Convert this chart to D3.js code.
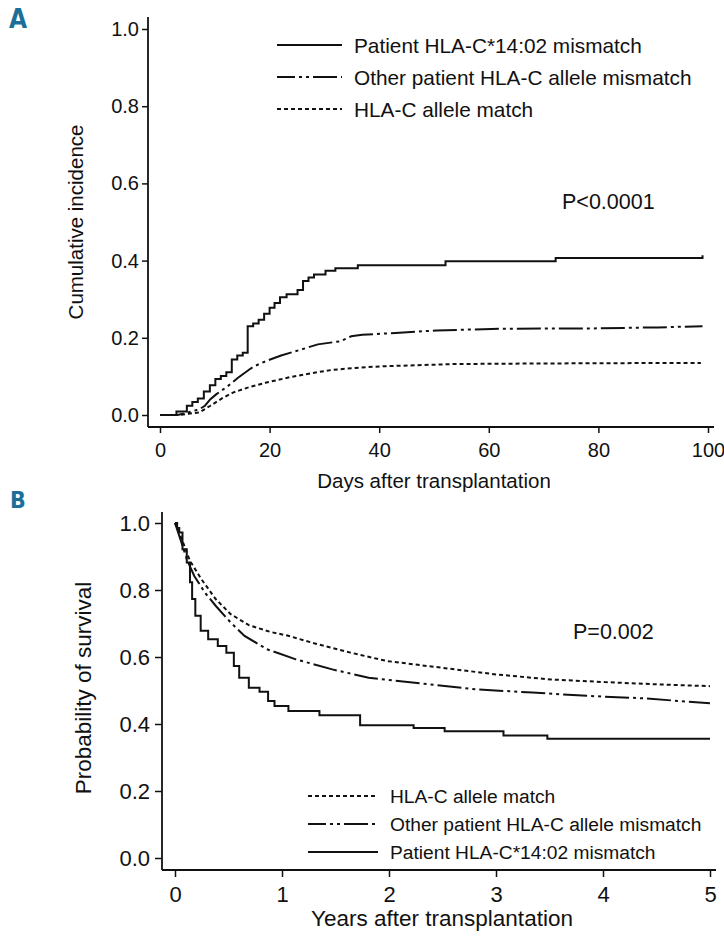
<!DOCTYPE html>
<html>
<head>
<meta charset="utf-8">
<script src="https://cdn.jsdelivr.net/npm/d3@7"></script>
<style>
  body { margin: 0; background: #fff; }
  svg { display: block; font-family: "Liberation Sans", Arial, sans-serif; }
</style>
</head>
<body>
<div id="chart"></div>
<script>
'use strict'

// panel A : cumulative incidence, days after transplantation
var aTicksX = [0, 20, 40, 60, 80, 100]
var aTicksY = [0, 0.2, 0.4, 0.6, 0.8, 1.0]
var aDays1402 = [0, 3, 4.9, 5.9, 6.9, 8, 9.1, 10.1, 11.1, 12.1, 13.1, 14.1, 15.1, 16, 17, 18, 19, 20, 20.9, 21.9, 23.1, 25.1, 26.1, 27.1, 28.1, 30.2, 32, 36.1, 52.1, 72.2, 99]
var aInc1402 = [0, 0.009, 0.024, 0.034, 0.043, 0.061, 0.077, 0.093, 0.101, 0.111, 0.144, 0.154, 0.161, 0.230, 0.237, 0.247, 0.262, 0.278, 0.290, 0.305, 0.313, 0.324, 0.347, 0.356, 0.364, 0.374, 0.380, 0.388, 0.398, 0.407, 0.414]
var aDaysOther = [0, 3.2, 5.2, 7.2, 8.2, 9.2, 10.3, 12.3, 14.3, 16.3, 17.3, 19.4, 22.1, 25.4, 28.8, 32.9, 34.9, 36.9, 43.7, 50.4, 60.5, 70.6, 77.4, 90.9, 99]
var aIncOther = [0, 0, 0.007, 0.015, 0.024, 0.041, 0.054, 0.074, 0.097, 0.118, 0.127, 0.14, 0.154, 0.168, 0.183, 0.191, 0.204, 0.208, 0.213, 0.219, 0.223, 0.224, 0.224, 0.227, 0.23]
var aDaysMatch = [0, 3.2, 5.2, 7.2, 9.2, 11.3, 13.3, 16, 19.4, 23.4, 27.5, 31.5, 35.6, 40.3, 47, 53.8, 63.9, 77.4, 98.7]
var aIncMatch = [0, 0, 0.003, 0.007, 0.024, 0.043, 0.058, 0.071, 0.084, 0.097, 0.108, 0.117, 0.122, 0.126, 0.129, 0.132, 0.133, 0.134, 0.135]

// panel B : survival, years after transplantation
var bTicksX = [0, 1, 2, 3, 4, 5]
var bTicksY = [0, 0.2, 0.4, 0.6, 0.8, 1.0]
var bYrs1402 = [0, 0.02, 0.04, 0.07, 0.11, 0.14, 0.16, 0.19, 0.24, 0.31, 0.4, 0.48, 0.55, 0.6, 0.69, 0.79, 0.87, 0.93, 1.06, 1.35, 1.73, 2.23, 2.52, 3.07, 3.48, 5.0]
var bSurv1402 = [1, 0.985, 0.972, 0.922, 0.882, 0.823, 0.773, 0.723, 0.678, 0.653, 0.633, 0.613, 0.573, 0.538, 0.508, 0.496, 0.469, 0.454, 0.439, 0.426, 0.396, 0.388, 0.378, 0.366, 0.356, 0.356]
var bYrsOther = [0, 0.06, 0.11, 0.18, 0.28, 0.38, 0.52, 0.65, 0.86, 1.13, 1.47, 1.81, 2.39, 2.83, 3.34, 3.85, 4.36, 4.7, 5.0]
var bSurvOther = [1, 0.942, 0.892, 0.842, 0.792, 0.753, 0.703, 0.663, 0.623, 0.593, 0.563, 0.538, 0.518, 0.503, 0.494, 0.484, 0.477, 0.469, 0.462]
var bYrsMatch = [0, 0.075, 0.14, 0.245, 0.38, 0.52, 0.69, 0.89, 1.05, 1.3, 1.64, 1.98, 2.49, 3.0, 3.51, 4.02, 4.53, 5.0]
var bSurvMatch = [1, 0.942, 0.887, 0.833, 0.773, 0.728, 0.695, 0.675, 0.664, 0.641, 0.613, 0.588, 0.568, 0.548, 0.533, 0.525, 0.518, 0.513]

var labels = {
    c1402: "Patient HLA-C*14:02 mismatch",
    other: "Other patient HLA-C allele mismatch",
    match: "HLA-C allele match"
}
var dashes = {
    c1402: null,
    other: "24,4,3,4,3,4",
    match: "4,3"
}

var zip = (xs, ys) => xs.map((x, i) => [x, ys[i]])

var svg = d3.select("#chart").append("svg")
    .attr("width", 724)
    .attr("height", 939)
svg.append("rect").attr("width", 724).attr("height", 939).attr("fill", "#fff")

function panel(o) {
    var x = d3.scaleLinear().domain(o.xDomain).range(o.xRange)
    var y = d3.scaleLinear().domain([0, 1]).range(o.yRange)
    var g = svg.append("g")

    // panel letter
    g.append("text")
        .attr("x", o.letterPos[0]).attr("y", o.letterPos[1])
        .attr("fill", "#1b6f99")
        .style("font-family", "'Liberation Sans Narrow', 'DejaVu Sans Condensed', sans-serif")
        .style("font-weight", "bold")
        .style("font-size", o.letterSize + "px")
        .text(o.letter)

    // y axis
    var ya = g.append("g")
        .attr("transform", "translate(" + o.spineX + ",0)")
        .call(d3.axisLeft(y).tickValues(o.yTicks).tickFormat(d3.format(".1f"))
            .tickSize(o.tickLen).tickPadding(o.yPad))
    ya.select(".domain").remove()
    ya.selectAll("line").attr("stroke", "#111").attr("stroke-width", 1.5)
    ya.selectAll("text").attr("fill", "#111").style("font-size", o.tickFont + "px")
        .style("font-family", "'Liberation Sans', Arial, sans-serif")
    g.append("line")
        .attr("x1", o.spineX).attr("x2", o.spineX)
        .attr("y1", o.spineTop).attr("y2", o.axisY)
        .attr("stroke", "#111").attr("stroke-width", 1.8)

    // x axis
    var xa = g.append("g")
        .attr("transform", "translate(0," + o.axisY + ")")
        .call(d3.axisBottom(x).tickValues(o.xTicks).tickFormat(d3.format("d"))
            .tickSize(o.tickLen).tickPadding(o.xPad))
    xa.select(".domain").remove()
    xa.selectAll("line").attr("stroke", "#111").attr("stroke-width", 1.5)
    xa.selectAll("text").attr("fill", "#111").style("font-size", o.tickFont + "px")
        .style("font-family", "'Liberation Sans', Arial, sans-serif")
    g.append("line")
        .attr("x1", o.spineX).attr("x2", o.axisRight)
        .attr("y1", o.axisY).attr("y2", o.axisY)
        .attr("stroke", "#111").attr("stroke-width", 1.8)

    // titles
    g.append("text")
        .attr("transform", "translate(" + o.yTitlePos[0] + "," + o.yTitlePos[1] + ") rotate(-90)")
        .attr("text-anchor", "middle").attr("dominant-baseline", "central")
        .attr("fill", "#111").style("font-size", o.titleFont + "px")
        .text(o.yTitle)
    g.append("text")
        .attr("x", o.xTitlePos[0]).attr("y", o.xTitlePos[1])
        .attr("text-anchor", "middle").attr("dominant-baseline", "central")
        .attr("fill", "#111").style("font-size", o.titleFont + "px")
        .text(o.xTitle)

    // curves
    o.series.forEach(s => {
        var line = d3.line()
            .x(d => x(d[0]))
            .y(d => y(d[1]))
            .curve(s.step ? d3.curveStepAfter : d3.curveLinear)
        g.append("path")
            .datum(zip(s.xs, s.ys))
            .attr("fill", "none")
            .attr("stroke", "#111")
            .attr("stroke-width", 2)
            .attr("stroke-dasharray", dashes[s.key])
            .attr("d", line)
    })

    // p value
    g.append("text")
        .attr("x", o.pPos[0]).attr("y", o.pPos[1])
        .attr("dominant-baseline", "central")
        .attr("fill", "#111").style("font-size", o.pFont + "px")
        .text(o.pText)

    // legend
    o.legend.forEach((k, i) => {
        var ly = o.legendY[i]
        g.append("line")
            .attr("x1", o.legendX[0]).attr("x2", o.legendX[1])
            .attr("y1", ly).attr("y2", ly)
            .attr("stroke", "#111").attr("stroke-width", 2)
            .attr("stroke-dasharray", dashes[k])
            .attr("stroke-dashoffset", k == "other" ? 6 : 0)
        g.append("text")
            .attr("x", o.legendX[2]).attr("y", ly)
            .attr("dominant-baseline", "central")
            .attr("fill", "#111").style("font-size", o.legendFont + "px")
            .text(labels[k])
    })
}

panel({
    letter: "A", letterPos: [9, 28], letterSize: 26,
    xDomain: [0, 100], xRange: [160, 708], yRange: [415, 29],
    xTicks: aTicksX, yTicks: aTicksY,
    spineX: 148, spineTop: 17, axisY: 427, axisRight: 714,
    tickLen: 6, yPad: 3, xPad: 10, tickFont: 20, titleFont: 20.5,
    yTitle: "Cumulative incidence", yTitlePos: [75, 222],
    xTitle: "Days after transplantation", xTitlePos: [434, 480],
    series: [
        { key: "c1402", xs: aDays1402, ys: aInc1402, step: true },
        { key: "other", xs: aDaysOther, ys: aIncOther, step: false },
        { key: "match", xs: aDaysMatch, ys: aIncMatch, step: false }
    ],
    pText: "P<0.0001", pPos: [562, 202], pFont: 21.5,
    legend: ["c1402", "other", "match"], legendY: [45, 77, 109],
    legendX: [277, 342, 354], legendFont: 20.8
})

panel({
    letter: "B", letterPos: [10, 508], letterSize: 23,
    xDomain: [0, 5], xRange: [175, 710], yRange: [858, 523],
    xTicks: bTicksX, yTicks: bTicksY,
    spineX: 162, spineTop: 512, axisY: 870, axisRight: 716,
    tickLen: 7, yPad: 5, xPad: 9, tickFont: 22, titleFont: 22.5,
    yTitle: "Probability of survival", yTitlePos: [83, 688],
    xTitle: "Years after transplantation", xTitlePos: [442, 918],
    series: [
        { key: "match", xs: bYrsMatch, ys: bSurvMatch, step: false },
        { key: "other", xs: bYrsOther, ys: bSurvOther, step: false },
        { key: "c1402", xs: bYrs1402, ys: bSurv1402, step: true }
    ],
    pText: "P=0.002", pPos: [573, 632], pFont: 21.5,
    legend: ["match", "other", "c1402"], legendY: [796, 824, 852],
    legendX: [308, 378, 390], legendFont: 19.2
})
</script>
</body>
</html>
